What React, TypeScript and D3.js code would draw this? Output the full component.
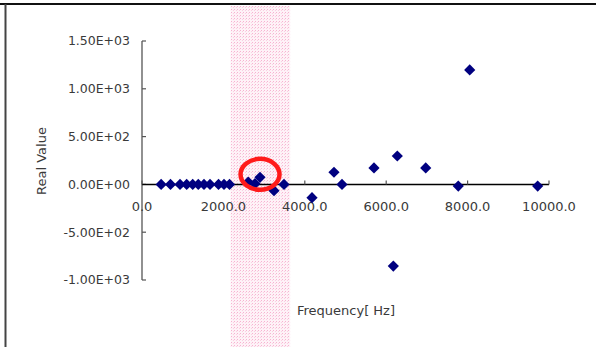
import React from "react";
import * as d3 from "d3";

const freq = [470, 700, 934, 1098, 1246, 1383, 1523, 1671, 1880, 2015, 2150, 2610, 2776, 2899, 3243, 3489, 4177, 4717, 4914, 5700, 6175, 6273, 6971, 7771, 8052, 9722];
const realValue = [0, 0, 0, 0, 0, 0, 0, 0, 0, 0, 0, 25, 8, 74, -66, 0, -139, 127, 0, 172, -854, 297, 172, -17, 1197, -17];
const xTicks = [0, 2000, 4000, 6000, 8000, 10000];
const yTicks = [-1000, -500, 0, 500, 1000, 1500];
const bandRange = [2180, 3640];
const highlight = { x: 2900, y: 105 };

const W = 596, H = 347;
const x = d3.scaleLinear().domain([0, 10000]).range([142, 549]);
const y = d3.scaleLinear().domain([-1000, 1500]).range([280, 41]);

const fmtY = (v: number) => {
  if (v === 0) return "0.00E+00";
  const s = d3.format(".2e")(Math.abs(v));
  const [m, e] = s.split("e");
  const sign = e[0];
  const exp = e.slice(1).padStart(2, "0");
  return (v < 0 ? "-" : "") + m + "E" + sign + exp;
};
const fmtX = (v: number) => d3.format(".1f")(v);

const diamond = d3.symbol().type(d3.symbolDiamond2).size(80)();

export default function App() {
  const font = "'DejaVu Sans', sans-serif";
  const bx0 = x(bandRange[0]);
  const bx1 = x(bandRange[1]);
  return (
    <svg width={W} height={H} style={{ position: "absolute", left: 0, top: 0, background: "#fff" }}>
      <defs>
        <pattern id="pinkdots" width="3" height="3" patternUnits="userSpaceOnUse">
          <rect width="3" height="3" fill="#fef2f7" />
          <rect width="1" height="1" fill="#f7b3d1" />
          <rect x="2" y="1" width="1" height="1" fill="#fad0e2" />
        </pattern>
      </defs>
      <line x1={0} x2={W} y1={4} y2={4} stroke="#111" strokeWidth={2} />
      <line x1={5.5} x2={5.5} y1={4} y2={H} stroke="#444" strokeWidth={2} />
      <rect x={bx0} y={6} width={bx1 - bx0} height={H - 6} fill="url(#pinkdots)" />
      <line x1={x(0)} x2={x(0)} y1={y(1500)} y2={y(-1000)} stroke="#555" strokeWidth={1.3} />
      {yTicks.map((t) => (
        <g key={"yt" + t}>
          <line x1={x(0)} x2={x(0) + 4} y1={y(t)} y2={y(t)} stroke="#555" strokeWidth={1.2} />
          <text x={130} y={y(t)} dy="0.35em" textAnchor="end" fontSize={12.5} fontFamily={font} fill="#3a3a3a">
            {fmtY(t)}
          </text>
        </g>
      ))}
      <line x1={x(0)} x2={x(10000)} y1={y(0)} y2={y(0)} stroke="#000" strokeWidth={1.5} />
      {xTicks.map((t) => (
        <g key={"xt" + t}>
          <line x1={x(t)} x2={x(t)} y1={y(0)} y2={y(0) - 4} stroke="#555" strokeWidth={1.2} />
          <text x={x(t)} y={211} textAnchor="middle" fontSize={13} fontFamily={font} fill="#3a3a3a">
            {fmtX(t)}
          </text>
        </g>
      ))}
      {freq.map((f, i) => (
        <path key={"p" + i} d={diamond!} transform={`translate(${x(f)},${y(realValue[i])})`} fill="#000080" />
      ))}
      <ellipse cx={x(highlight.x)} cy={y(highlight.y)} rx={19.5} ry={15.5} fill="none" stroke="#ff1a1a" strokeWidth={4.5} />
      <text transform="translate(46,161) rotate(-90)" textAnchor="middle" fontSize={13} fontFamily={font} fill="#3a3a3a">
        Real Value
      </text>
      <text x={346} y={315} textAnchor="middle" fontSize={13} fontFamily={font} fill="#3a3a3a">
        Frequency[ Hz]
      </text>
    </svg>
  );
}
